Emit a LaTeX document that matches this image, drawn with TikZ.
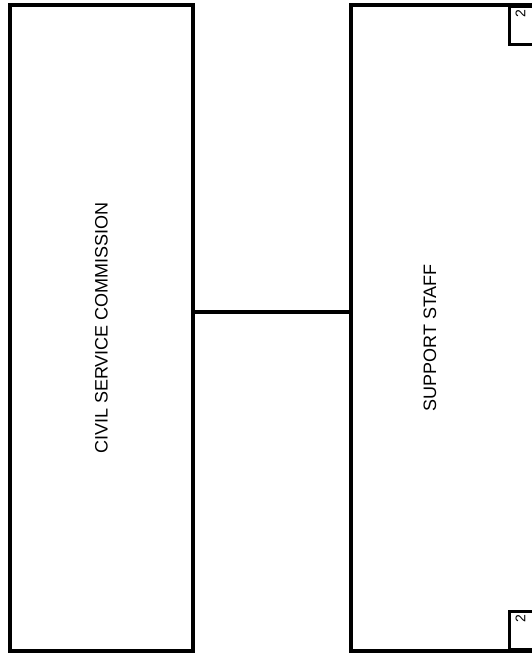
\documentclass[tikz,border=0pt]{standalone}
\usepackage{fontspec}
\setmainfont{Liberation Sans}
\usetikzlibrary{positioning, calc}

\tikzset{
  orgbox/.style={draw, line width=3.2pt, rotate=90, inner sep=0pt,
    font=\fontsize{18}{20}\selectfont},
  tabbox/.style={draw, line width=3.2pt, anchor=north west, inner sep=0pt,
    minimum width=30pt, minimum height=38pt},
  tabnum/.style={rotate=90, anchor=east, inner sep=0pt,
    font=\fontsize{14}{15}\selectfont},
  link/.style={line width=3.2pt}
}

\begin{document}
\begin{tikzpicture}[x=1pt, y=1pt]
  \useasboundingbox (0,0) rectangle (532,656);
  % Commission box
  \node[orgbox, minimum width=646pt, minimum height=183pt] (csc) at (101.5,328)
    {CIVIL SERVICE COMMISSION};
  % Staff box, running off the right edge
  \node[orgbox, minimum width=646pt, minimum height=186pt] (staff) at (444,328) {};
  \node[rotate=90, font=\fontsize{18}{20}\selectfont] (stafftext) at (430,318)
    {SUPPORT STAFF};
  % page tabs
  \node[tabbox] (tabtop) at (508,651) {};
  \node[tabnum] (numtop) at ($(tabtop.north)+(-4pt,-5pt)$) {2};
  \node[tabbox, anchor=south west] (tabbot) at (508,5) {};
  \node[tabnum] (numbot) at ($(tabbot.north)+(-4pt,-5pt)$) {2};
  % connector
  \coordinate (linky) at (0,344);
  \draw[link] (csc.south |- linky) -- (staff.north |- linky);
\end{tikzpicture}
\end{document}
